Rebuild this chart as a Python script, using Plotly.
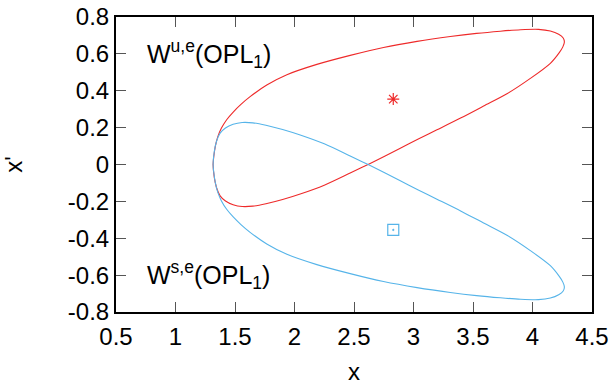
import plotly.graph_objects as go

# W^{u,e}(OPL1) branch (red)
wu_x = [1.316, 1.322, 1.335, 1.355, 1.385, 1.430, 1.487, 1.550, 1.627, 1.767, 1.936, 2.188, 2.468, 2.748,
        3.030, 3.309, 3.530, 3.730, 3.900, 4.050, 4.150, 4.220, 4.258, 4.268, 4.255, 4.225, 4.150, 3.982,
        3.789, 3.589, 3.400, 3.197, 3.040, 2.889, 2.636, 2.468, 2.250, 2.048, 1.900, 1.760, 1.650, 1.560,
        1.484, 1.420, 1.375, 1.345, 1.326, 1.316]
wu_y = [0.000, 0.045, 0.100, 0.150, 0.196, 0.243, 0.286, 0.326, 0.368, 0.431, 0.487, 0.543, 0.592, 0.635,
        0.668, 0.694, 0.711, 0.723, 0.731, 0.733, 0.724, 0.706, 0.686, 0.664, 0.638, 0.607, 0.549, 0.467,
        0.385, 0.317, 0.253, 0.188, 0.138, 0.088, 0.006, -0.046, -0.112, -0.160, -0.190, -0.213, -0.226, -0.228,
        -0.218, -0.198, -0.170, -0.126, -0.070, 0.000]

# W^{s,e}(OPL1) branch (blue)
ws_x = [1.316, 1.322, 1.335, 1.355, 1.385, 1.430, 1.487, 1.550, 1.627, 1.767, 1.936, 2.188, 2.468, 2.748,
        3.030, 3.309, 3.530, 3.730, 3.900, 4.050, 4.150, 4.220, 4.258, 4.268, 4.255, 4.225, 4.150, 3.982,
        3.789, 3.589, 3.400, 3.197, 3.040, 2.889, 2.636, 2.468, 2.250, 2.048, 1.900, 1.760, 1.650, 1.560,
        1.484, 1.420, 1.375, 1.345, 1.326, 1.316]
ws_y = [0.000, -0.045, -0.100, -0.150, -0.196, -0.243, -0.286, -0.326, -0.368, -0.431, -0.487, -0.543, -0.592, -0.635,
        -0.668, -0.694, -0.711, -0.723, -0.731, -0.733, -0.724, -0.706, -0.686, -0.664, -0.638, -0.607, -0.549, -0.467,
        -0.385, -0.317, -0.253, -0.188, -0.138, -0.088, -0.006, 0.046, 0.112, 0.160, 0.190, 0.213, 0.226, 0.228,
        0.218, 0.198, 0.170, 0.126, 0.070, 0.000]

# equilibrium points
pu_x, pu_y = [2.83], [0.355]
ps_x, ps_y = [2.83], [-0.355]

x_ticks = [0.5, 1, 1.5, 2, 2.5, 3, 3.5, 4, 4.5]
x_labels = ["0.5", "1", "1.5", "2", "2.5", "3", "3.5", "4", "4.5"]
y_ticks = [-0.8, -0.6, -0.4, -0.2, 0, 0.2, 0.4, 0.6, 0.8]
y_labels = ["-0.8", "-0.6", "-0.4", "-0.2", "0", "0.2", "0.4", "0.6", "0.8"]

RED = "#ee2a2a"
BLUE = "#56b4e9"
FONT = "Liberation Sans, Arial, sans-serif"

fig = go.Figure()
fig.add_trace(go.Scatter(x=wu_x, y=wu_y, mode="lines",
                         line=dict(color=RED, width=1.1, shape="spline", smoothing=0.8)))
fig.add_trace(go.Scatter(x=ws_x, y=ws_y, mode="lines",
                         line=dict(color=BLUE, width=1.1, shape="spline", smoothing=0.8)))
fig.add_trace(go.Scatter(x=pu_x, y=pu_y, mode="markers",
                         marker=dict(symbol="asterisk-open", size=10, color=RED,
                                     line=dict(color=RED, width=1.2))))
fig.add_trace(go.Scatter(x=ps_x, y=ps_y, mode="markers",
                         marker=dict(symbol="square-open-dot", size=11, color=BLUE,
                                     line=dict(color=BLUE, width=1.2))))

fig.add_annotation(x=0.74, y=0.60, xref="x", yref="y", xanchor="left", yanchor="middle",
                   text="W<sup>u,e</sup>(OPL<sub>1</sub>)", showarrow=False,
                   font=dict(size=25, color="black", family=FONT))
fig.add_annotation(x=0.74, y=-0.60, xref="x", yref="y", xanchor="left", yanchor="middle",
                   text="W<sup>s,e</sup>(OPL<sub>1</sub>)", showarrow=False,
                   font=dict(size=25, color="black", family=FONT))

axis_common = dict(showgrid=False, zeroline=False, showline=True, linecolor="black", linewidth=2,
                   mirror="ticks", ticks="inside", ticklen=10, tickwidth=1.2, tickcolor="#555555",
                   automargin=False,
                   tickfont=dict(size=24, color="black", family=FONT))

fig.update_xaxes(range=[0.5, 4.5], tickvals=x_ticks, ticktext=x_labels, ticklabelstandoff=2,
                 title=dict(text="x", font=dict(size=24, color="black", family=FONT), standoff=14),
                 **axis_common)
fig.update_yaxes(range=[-0.8, 0.8], tickvals=y_ticks, ticktext=y_labels,
                 title=dict(text="x'", font=dict(size=24, color="black", family=FONT), standoff=38),
                 **axis_common)

fig.update_layout(template="none", width=614, height=385, margin=dict(l=116, r=22, t=17, b=73),
                  paper_bgcolor="white", plot_bgcolor="white", showlegend=False,
                  font=dict(family=FONT))

fig.write_html("out.html")
